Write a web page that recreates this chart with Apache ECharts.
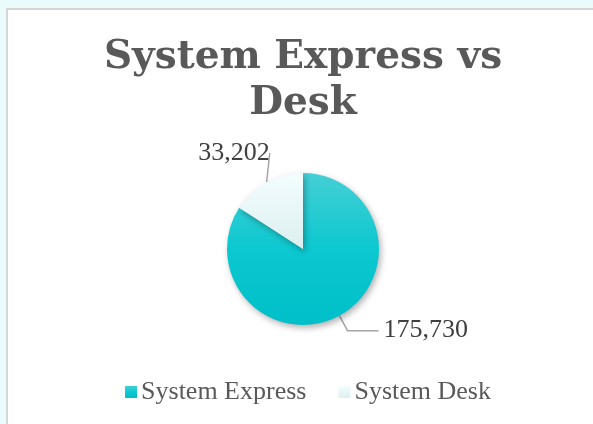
<!DOCTYPE html>
<html>
<head>
<meta charset="utf-8">
<script src="https://cdn.jsdelivr.net/npm/echarts@6/dist/echarts.min.js"></script>
<style>
  html, body {
    margin: 0;
    padding: 0;
    width: 593px;
    height: 424px;
    background-color: #e9fbfb;
    overflow: hidden;
  }
  #chart {
    position: absolute;
    left: 6px;
    top: 8px;
    width: 600px;
    height: 430px;
    background-color: #fff;
    border: 1px solid #d4d4d4;
    border-width: 2px 0 0 2px;
  }
</style>
</head>
<body>
<div id="chart"></div>
<script>
const titleText = "System Express vs\nDesk";
const categories = ["System Express", "System Desk"];
const values = [175730, 33202];

const fills = [
  new echarts.graphic.LinearGradient(0, 0, 0, 1, [
    { offset: 0, color: "#45cfd5" },
    { offset: 0.5, color: "#0cc8d0" },
    { offset: 1, color: "#00bfc8" }
  ]),
  new echarts.graphic.LinearGradient(0, 0, 0, 1, [
    { offset: 0, color: "#f3fdfe" },
    { offset: 1, color: "#dcefef" }
  ])
];
// leader line second segment per slice
const leaderTails = [31, 1];

const myChart = echarts.init(document.getElementById("chart"));
let option = {
  animation: false,
  title: {
    text: titleText,
    left: 290,
    top: 20,
    textAlign: "center",
    textStyle: {
      fontFamily: "DejaVu Serif",
      fontWeight: "bold",
      fontSize: 39,
      lineHeight: 46,
      color: "#595959"
    }
  },
  legend: {
    data: categories,
    top: 364,
    left: "center",
    itemWidth: 12,
    itemHeight: 12,
    itemGap: 32,
    icon: "rect",
    textStyle: {
      fontFamily: "Liberation Serif",
      fontSize: 26,
      color: "#595959",
      padding: [0, 0, 0, -1]
    }
  },
  series: [
    {
      type: "pie",
      center: [295, 239],
      radius: 76,
      startAngle: 90,
      clockwise: true,
      data: categories.map((name, i) => ({
        name: name,
        value: values[i],
        itemStyle: { color: fills[i] },
        labelLine: { length2: leaderTails[i] }
      })),
      itemStyle: {
        shadowBlur: 6,
        shadowOffsetX: 2,
        shadowOffsetY: 3,
        shadowColor: "rgba(0,0,0,0.3)"
      },
      label: {
        show: true,
        formatter: p => p.value.toLocaleString("en-US"),
        fontFamily: "Liberation Serif",
        fontSize: 26,
        color: "#404040"
      },
      labelLine: {
        show: true,
        length: 17,
        lineStyle: { color: "#a6a6a6", width: 1.5 }
      },
      labelLayout: params => {
        // Excel puts the small slice's label above its leader line
        if (params.dataIndex === 1) {
          return { x: 226, y: 143, align: "center", verticalAlign: "middle" };
        }
        return {};
      }
    }
  ]
};
myChart.setOption(option);
</script>
</body>
</html>
